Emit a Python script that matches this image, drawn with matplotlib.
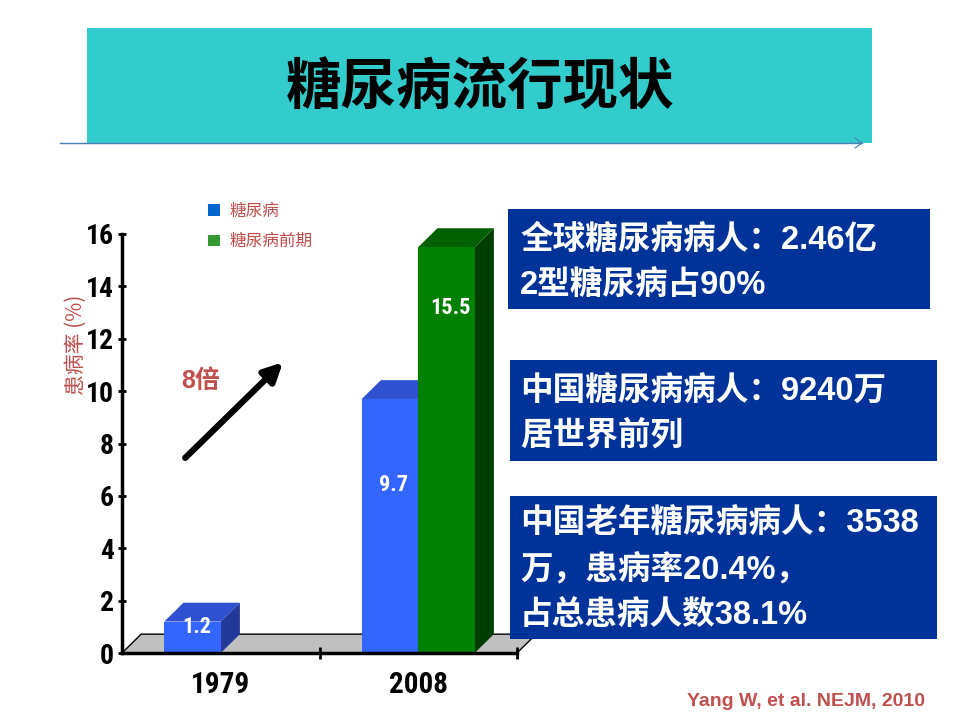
import matplotlib
matplotlib.use('Agg')
import numpy as np
import matplotlib.pyplot as plt
from matplotlib.patches import Polygon, Rectangle, Patch

plt.rcParams['font.family'] = ['Liberation Sans', 'Noto Sans CJK SC', 'DejaVu Sans']

# data
years = ['1979', '2008']
series = ['糖尿病', '糖尿病前期']
diabetes = [1.2, 9.7]
prediabetes = [np.nan, 15.5]
yticks = [0, 2, 4, 6, 8, 10, 12, 14, 16]

title = '糖尿病流行现状'
ylabel = '患病率 (%)'
fold_text = '8倍'
box_lines = [
    ['全球糖尿病病人：2.46亿', '2型糖尿病占90%'],
    ['中国糖尿病病人：9240万', '居世界前列'],
    ['中国老年糖尿病病人：3538', '万，患病率20.4%，', '占总患病人数38.1%'],
]
source = 'Yang W, et al. NEJM, 2010'

RED = '#C0504D'
NARROW = ['Roboto Condensed', 'Liberation Sans Narrow', 'Liberation Sans', 'DejaVu Sans']
CJK_BOLD = ['Liberation Sans', 'Noto Sans CJK SC', 'DejaVu Sans']

W, H = 960, 720
fig = plt.figure(figsize=(W / 100, H / 100), dpi=100)


def fp(x, y):
    # pixel -> figure fraction
    return x / W, 1 - y / H


# title banner
fig.patches.append(Rectangle(fp(87, 143), 785 / W, 115 / H, transform=fig.transFigure,
                             facecolor='#33CCCC', edgecolor='none', zorder=0))
fig.text(*fp(480, 88), title, ha='center', va='center', fontsize=40,
         fontweight='bold', family=['Noto Sans CJK SC'], color='black')
fig.add_artist(plt.Line2D([60 / W, 862 / W], [1 - 143 / H] * 2, transform=fig.transFigure,
                          color='#4A7EBB', lw=1))
fig.add_artist(plt.Line2D([855 / W, 862 / W, 855 / W], [1 - 138 / H, 1 - 143 / H, 1 - 148 / H],
                          transform=fig.transFigure, color='#4A7EBB', lw=0.8))

# chart
ax = fig.add_axes([122 / W, 1 - 653 / H, 395 / W, 419 / H])
ax.set_xlim(0, 2)
ax.set_ylim(0, 16)
for s in ['top', 'right']:
    ax.spines[s].set_visible(False)
for s in ['left', 'bottom']:
    ax.spines[s].set_linewidth(2.5)
    ax.spines[s].set_zorder(5)

dx, dy = 0.097, 0.72
floor = Polygon([(0, 0), (dx, dy), (2 + dx, dy), (2, 0)], closed=True, facecolor='#C0C0C0',
                edgecolor='black', lw=1, clip_on=False, zorder=1)
ax.add_patch(floor)

width = 0.286
centers = np.arange(len(years)) + 0.5
face = ['#3366FF', '#008000']
topc = ['#2F50CF', '#006000']
sidec = ['#22399A', '#003F00']
label_frac = [[0.83, 0.66], [0.85, 0.85]]

for si, vals in enumerate([diabetes, prediabetes]):
    x0s = centers - width + si * width
    for i, (x0, v) in enumerate(zip(x0s, vals)):
        if np.isnan(v):
            continue
        x1 = x0 + width
        ax.add_patch(Polygon([(x1, 0), (x1 + dx, dy), (x1 + dx, v + dy), (x1, v)],
                             facecolor=sidec[si], edgecolor='none', clip_on=False, zorder=2))
        ax.add_patch(Polygon([(x0, v), (x0 + dx, v + dy), (x1 + dx, v + dy), (x1, v)],
                             facecolor=topc[si], edgecolor='none', clip_on=False, zorder=2))
        ax.bar(x0, v, width, align='edge', color=face[si], zorder=3, clip_on=False)
        ax.text(x0 + width / 2 + 0.02, v * label_frac[si][i], f'{v:g}', ha='center',
                va='center', color='white', fontsize=16, fontweight='bold', family=NARROW,
                zorder=4)

ax.set_yticks(yticks)
ax.set_yticklabels([str(t) for t in yticks], fontsize=20, fontweight='bold', family=NARROW)
ax.tick_params(axis='y', direction='inout', length=6, width=2, pad=3)
ax.set_xticks([1, 2])
ax.set_xticklabels(['', ''])
ax.tick_params(axis='x', which='major', direction='inout', length=8, width=2)
ax.set_xticks(centers, minor=True)
ax.set_xticklabels(years, minor=True, fontsize=21, fontweight='bold', family=NARROW)
ax.tick_params(axis='x', which='minor', length=0, pad=13)

fig.text(*fp(76, 345), ylabel, rotation=90, ha='center', va='center', fontsize=15,
         color=RED, family=['Noto Sans CJK SC'])

ax.annotate('', xy=(0.815, 11.1), xytext=(0.32, 7.45),
            arrowprops=dict(arrowstyle='-|>', lw=4.5, color='black', mutation_scale=28,
                            shrinkA=0, shrinkB=0))
ax.text(0.4, 10.4, fold_text, ha='center', va='center', fontsize=18, fontweight='bold',
        color=RED, family=CJK_BOLD)

handles = [Patch(facecolor='#0066CC'), Patch(facecolor='#339933')]
fig.legend(handles, series, loc='upper left', bbox_to_anchor=fp(193, 188), frameon=False,
           handlelength=0.7, handleheight=0.7, handletextpad=0.6, labelspacing=0.8,
           labelcolor=RED, prop={'family': 'Noto Sans CJK SC', 'size': 12})

# info boxes
boxes = [(508, 209, 930, 309), (510, 360, 937, 461), (510, 496, 937, 639)]
line_y = [[240, 285], [392, 437], [523, 570, 615]]
for (l, t, r, b), lines, ys in zip(boxes, box_lines, line_y):
    fig.patches.append(Rectangle(fp(l, b), (r - l) / W, (b - t) / H, transform=fig.transFigure,
                                 facecolor='#003399', edgecolor='none', zorder=6))
    for s, y in zip(lines, ys):
        fig.text(*fp(520, y), s, ha='left', va='center', fontsize=23.5, fontweight='bold',
                 color='white', family=CJK_BOLD, zorder=7)

fig.text(*fp(925, 702), source, ha='right', va='center', fontsize=14, fontweight='bold',
         color=RED)

fig.savefig('out.png', dpi=100)
